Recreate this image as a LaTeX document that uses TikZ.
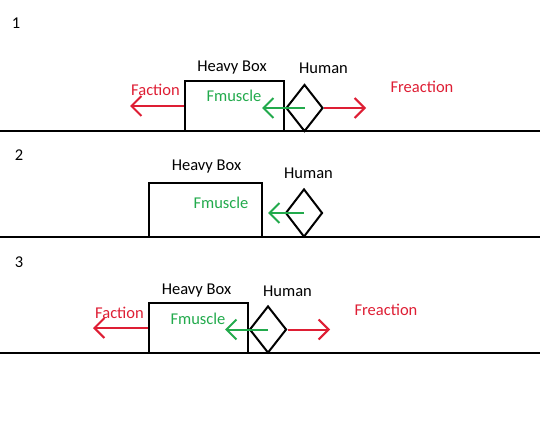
\documentclass[tikz,border=0pt]{standalone}
\usepackage{fontspec}
\setmainfont{Carlito}
\usetikzlibrary{shapes.geometric, arrows.meta, positioning}
\definecolor{forcered}{RGB}{222,30,52}
\definecolor{forcegreen}{RGB}{34,170,76}

\begin{document}
\begin{tikzpicture}[x=1pt, y=-1pt, line width=2pt,
  heavybox/.style={rectangle, draw, inner sep=0pt},
  human/.style={diamond, draw, inner sep=0pt, minimum width=37pt, minimum height=47pt},
  lbl/.style={anchor=base, inner sep=0pt, font=\fontsize{16.5}{20}\selectfont},
  redlbl/.style={lbl, text=forcered},
  greenlbl/.style={lbl, text=forcegreen},
  forcetip/.style={-{Straight Barb[length=10pt, width=20pt]}},
  redforce/.style={draw=forcered, forcetip},
  greenforce/.style={draw=forcegreen, forcetip}]
  \useasboundingbox (0,0) rectangle (540,446);

  % panel 1
  \node[lbl] (num1) at (16,29) {1};
  \node[heavybox, minimum width=99pt, minimum height=50pt] (box1) at (234.5,106) {};
  \node[human] (human1) at (304.5,108) {};
  \node[lbl] (boxlbl1) at (232,72) {Heavy Box};
  \node[lbl] (humanlbl1) at (323.5,74) {Human};
  \node[redlbl] (faction1) at (155.5,96) {Faction};
  \node[greenlbl] (fmuscle1) at (234,102) {Fmuscle};
  \node[redlbl] (freaction1) at (422,93) {Freaction};
  \coordinate (fa1) at (130,106);
  \coordinate (fm1) at (262,108);
  \coordinate (fr1) at (366,108);
  \coordinate (gl1) at (0,131);
  \coordinate (gr1) at (540,131);
  \draw (gl1) -- (gr1);
  \draw[redforce] (box1.west) -- (fa1);
  \draw[greenforce] (human1.center) -- (fm1);
  \draw[redforce] (human1.east) -- (fr1);

  % panel 2
  \node[lbl] (num2) at (19,161) {2};
  \node[heavybox, minimum width=113pt, minimum height=54pt] (box2) at (205.5,210) {};
  \node[human, minimum height=48pt] (human2) at (304,213) {};
  \node[lbl] (boxlbl2) at (206.5,171) {Heavy Box};
  \node[lbl] (humanlbl2) at (308.5,179) {Human};
  \node[greenlbl] (fmuscle2) at (221,209) {Fmuscle};
  \coordinate (fm2) at (268,213);
  \coordinate (gl2) at (0,237);
  \coordinate (gr2) at (540,237);
  \draw (gl2) -- (gr2);
  \draw[greenforce] (human2.center) -- (fm2);

  % panel 3
  \node[lbl] (num3) at (19,267) {3};
  \node[heavybox, minimum width=99pt, minimum height=50pt] (box3) at (198.5,328) {};
  \node[human] (human3) at (268,329.5) {};
  \node[lbl] (boxlbl3) at (196.5,294) {Heavy Box};
  \node[lbl] (humanlbl3) at (287.5,296) {Human};
  \node[redlbl] (faction3) at (119.5,318) {Faction};
  \node[greenlbl] (fmuscle3) at (198,324) {Fmuscle};
  \node[redlbl] (freaction3) at (386,315) {Freaction};
  \coordinate (fa3) at (93,328);
  \coordinate (fm3) at (225,329.5);
  \coordinate (fr3) at (330,329.5);
  \coordinate (gl3) at (0,353);
  \coordinate (gr3) at (540,353);
  \draw (gl3) -- (gr3);
  \draw[redforce] (box3.west) -- (fa3);
  \draw[greenforce] (human3.center) -- (fm3);
  \draw[redforce] (human3.east) -- (fr3);
\end{tikzpicture}
\end{document}
